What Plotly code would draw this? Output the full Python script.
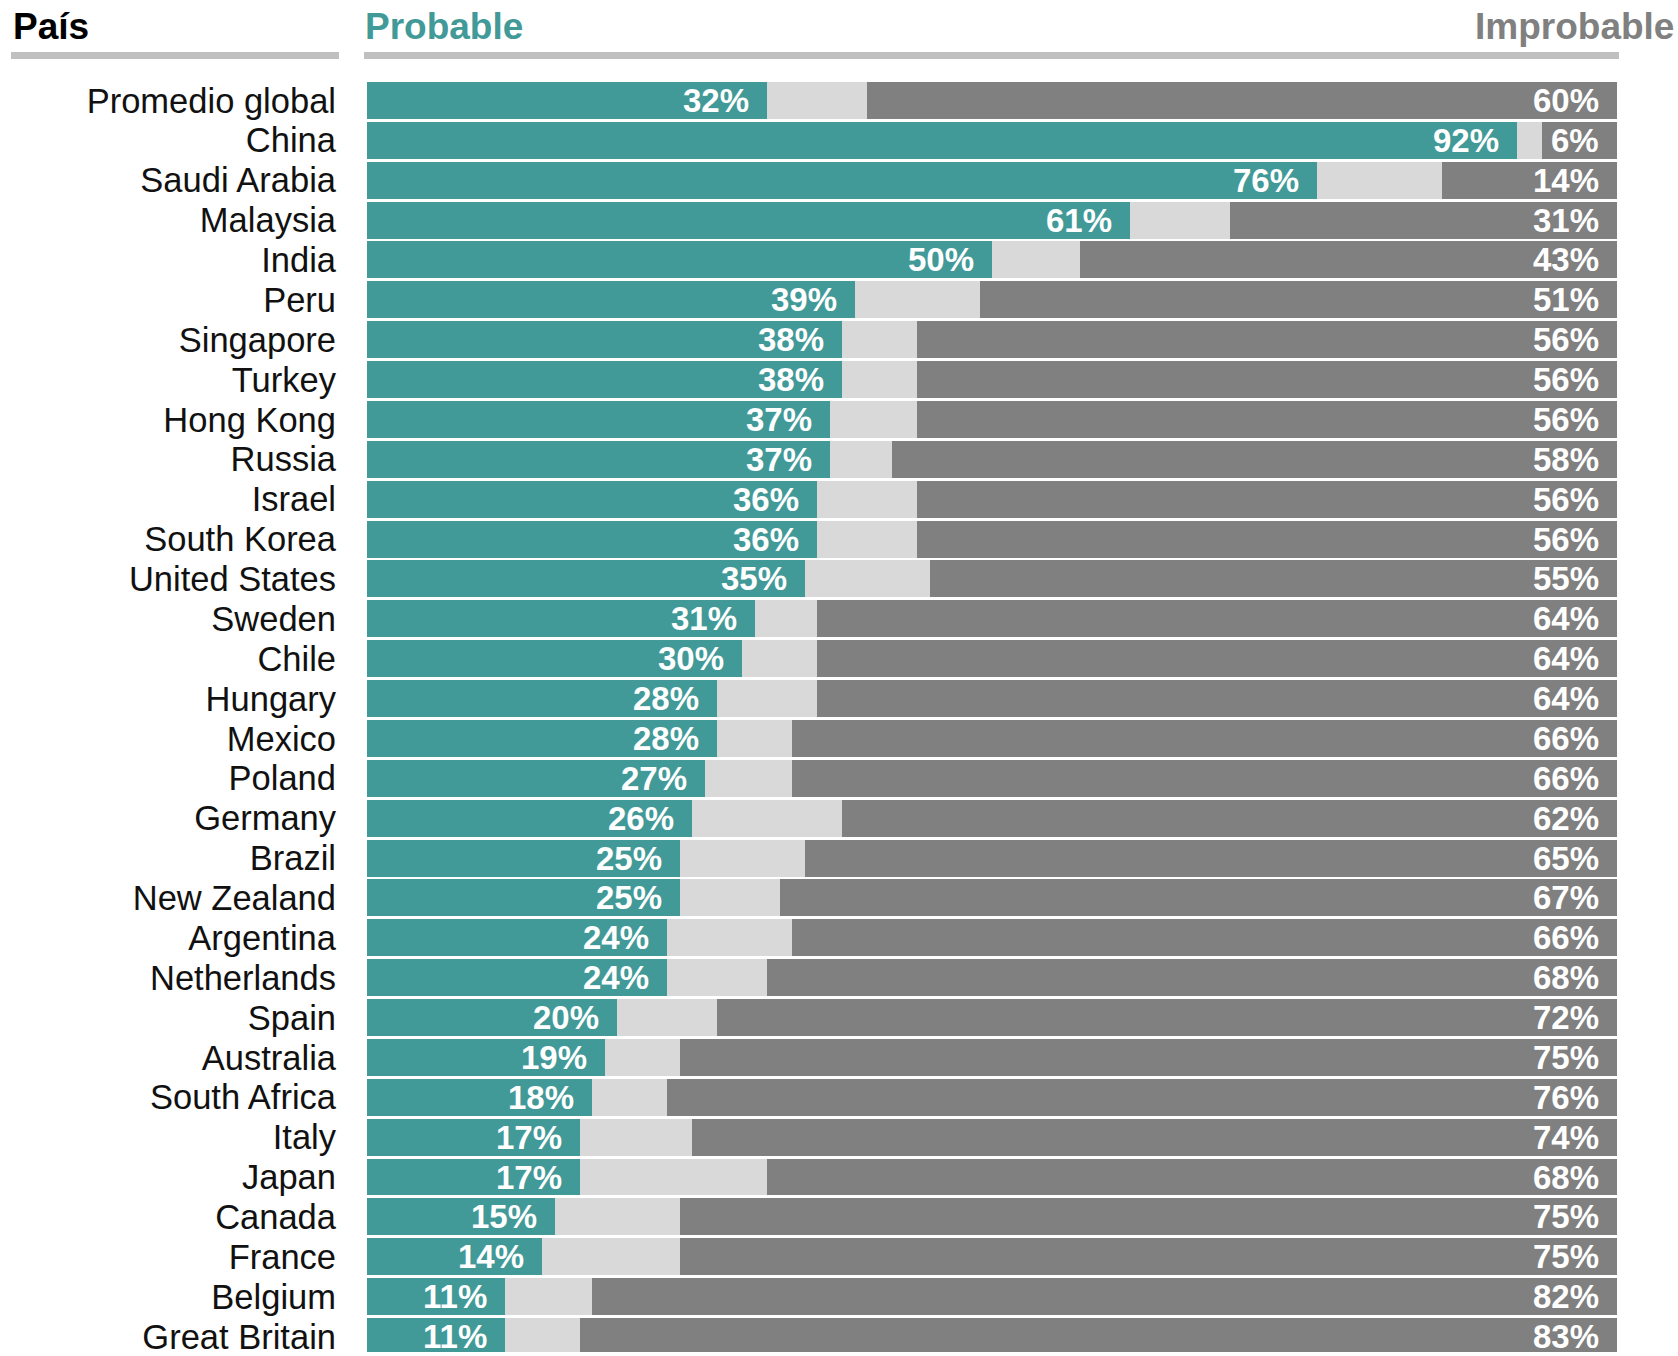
import plotly.graph_objects as go

countries = ["Promedio global", "China", "Saudi Arabia", "Malaysia", "India", "Peru",
             "Singapore", "Turkey", "Hong Kong", "Russia", "Israel", "South Korea",
             "United States", "Sweden", "Chile", "Hungary", "Mexico", "Poland", "Germany",
             "Brazil", "New Zealand", "Argentina", "Netherlands", "Spain", "Australia",
             "South Africa", "Italy", "Japan", "Canada", "France", "Belgium", "Great Britain"]
probable = [32, 92, 76, 61, 50, 39, 38, 38, 37, 37, 36, 36, 35, 31, 30, 28, 28, 27, 26,
            25, 25, 24, 24, 20, 19, 18, 17, 17, 15, 14, 11, 11]
improbable = [60, 6, 14, 31, 43, 51, 56, 56, 56, 58, 56, 56, 55, 64, 64, 64, 66, 66, 62,
              65, 67, 66, 68, 72, 75, 76, 74, 68, 75, 75, 82, 83]
neutral = [100 - p - i for p, i in zip(probable, improbable)]

TEAL = "#429a98"
LIGHT = "#d9d9d9"
DARK = "#808080"
FONT = "Liberation Sans, Arial, sans-serif"

W, H = 1678, 1356
L, R, T, B = 367, 61, 80, 0
PW, PH = W - L - R, H - T - B

def px_x(p):
    return (p - L) / PW

def px_y(p):
    return 1 - (p - T) / PH

fig = go.Figure()
for name, vals, col in [("Probable", probable, TEAL), ("Neutral", neutral, LIGHT),
                        ("Improbable", improbable, DARK)]:
    fig.add_trace(go.Bar(y=countries, x=vals, orientation="h", name=name,
                         marker=dict(color=col, line=dict(width=0)), width=0.925,
                         hoverinfo="skip"))

annotations = []
for c, p, i in zip(countries, probable, improbable):
    annotations.append(dict(x=p, y=c, xref="x", yref="y", text=f"{p}%", showarrow=False,
                            xanchor="right", yanchor="middle", xshift=-16,
                            font=dict(family=FONT, size=33, color="white", weight="bold")))
    annotations.append(dict(x=100, y=c, xref="x", yref="y", text=f"{i}%", showarrow=False,
                            xanchor="right", yanchor="middle", xshift=-16,
                            font=dict(family=FONT, size=33, color="white", weight="bold")))

annotations += [
    dict(x=px_x(11), y=px_y(26), xref="paper", yref="paper", text="País", showarrow=False,
         xanchor="left", yanchor="middle",
         font=dict(family=FONT, size=37, color="black", weight="bold")),
    dict(x=px_x(363), y=px_y(26), xref="paper", yref="paper", text="Probable", showarrow=False,
         xanchor="left", yanchor="middle",
         font=dict(family=FONT, size=37, color=TEAL, weight="bold")),
    dict(x=px_x(1676), y=px_y(26), xref="paper", yref="paper", text="Improbable", showarrow=False,
         xanchor="right", yanchor="middle",
         font=dict(family=FONT, size=37, color=DARK, weight="bold")),
]

shapes = [
    dict(type="rect", xref="paper", yref="paper", x0=px_x(11), x1=px_x(339),
         y0=px_y(59), y1=px_y(52), fillcolor="#c0c0c0", line=dict(width=0)),
    dict(type="rect", xref="paper", yref="paper", x0=px_x(364), x1=px_x(1619),
         y0=px_y(59), y1=px_y(52), fillcolor="#c0c0c0", line=dict(width=0)),
]

top_idx = -0.5125
bot_idx = (H - 100.5) / 40

fig.update_layout(
    barmode="stack",
    width=W, height=H,
    margin=dict(l=L, r=R, t=T, b=B, pad=0),
    paper_bgcolor="white", plot_bgcolor="white",
    showlegend=False,
    annotations=annotations,
    shapes=shapes,
    xaxis=dict(range=[0, 100], showgrid=False, zeroline=False, showticklabels=False,
               fixedrange=True),
    yaxis=dict(categoryorder="array", categoryarray=countries, range=[bot_idx, top_idx],
               tickmode="array", tickvals=countries, ticktext=countries,
               showgrid=False, zeroline=False, ticks="", ticklabelstandoff=30,
               tickfont=dict(family=FONT, size=34.5, color="#111111"), fixedrange=True),
)

fig.write_html("out.html", config={"displayModeBar": False},
               post_script="document.body.style.margin='0';document.body.style.overflow='hidden';")
